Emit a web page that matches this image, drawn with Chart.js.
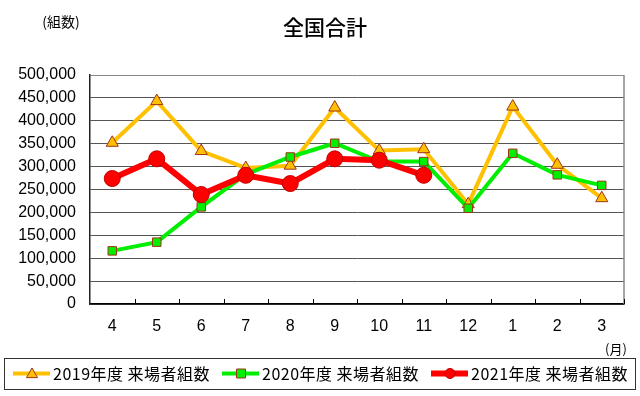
<!DOCTYPE html>
<html>
<head>
<meta charset="utf-8">
<script src="https://cdn.jsdelivr.net/npm/chart.js@4"></script>
<style>
html, body { margin: 0; padding: 0; background: #fff; }
</style>
</head>
<body>
<canvas id="myChart" width="640" height="396"></canvas>
<script>
var months = ["4", "5", "6", "7", "8", "9", "10", "11", "12", "1", "2", "3"];
var labels2019 = "2019年度 来場者組数";
var labels2020 = "2020年度 来場者組数";
var labels2021 = "2021年度 来場者組数";
var values2019 = [352000, 443000, 334000, 297000, 302000, 429000, 335000, 338000, 218000, 431000, 304000, 231000];
var values2020 = [116000, 135000, 212000, 283000, 321000, 351000, 311000, 311000, 209000, 329000, 282000, 259000];
var values2021 = [274000, 317000, 239000, 281000, 263000, 317000, 314000, 281000, null, null, null, null];
var yTicks = [0, 500000, 50000]; // min, max, step

var FONT = 'Liberation Sans, "Noto Sans CJK JP", sans-serif';
var JFONT = '"Noto Sans CJK JP", sans-serif';

// draw one legend marker by hand
function drawMarker(ctx, style, x, y, r, fill, stroke) {
  ctx.save();
  ctx.fillStyle = fill;
  ctx.strokeStyle = stroke;
  ctx.lineWidth = 1;
  ctx.beginPath();
  if (style == 'triangle') {
    ctx.moveTo(x, y - r);
    ctx.lineTo(x + r, y + r * 0.75);
    ctx.lineTo(x - r, y + r * 0.75);
    ctx.closePath();
  } else if (style == 'rect') {
    ctx.rect(x - r, y - r, r * 2, r * 2);
  } else {
    ctx.arc(x, y, r, 0, Math.PI * 2);
  }
  ctx.fill();
  ctx.stroke();
  ctx.restore();
}

var decor = {
  id: 'decor',
  beforeDraw: function(chart) {
    var ctx = chart.ctx;
    ctx.save();
    ctx.fillStyle = '#fff';
    ctx.fillRect(0, 0, chart.width, chart.height);
    ctx.restore();
  },
  beforeDatasetsDraw: function(chart) {
    var ctx = chart.ctx, a = chart.chartArea;
    var xs = chart.scales.x;
    ctx.save();
    // right border of plot
    ctx.strokeStyle = '#888';
    ctx.lineWidth = 1.5;
    ctx.beginPath();
    ctx.moveTo(a.right, a.top);
    ctx.lineTo(a.right, a.bottom);
    ctx.stroke();
    // small inside ticks between categories
    ctx.strokeStyle = '#000';
    ctx.lineWidth = 1;
    ctx.beginPath();
    for (var i = 1; i <= months.length; i++) {
      var x = i < months.length ? (xs.getPixelForValue(i - 1) + xs.getPixelForValue(i)) / 2 : a.right;
      x = Math.round(x) + 0.5;
      ctx.moveTo(x, a.bottom);
      ctx.lineTo(x, a.bottom - 5);
    }
    ctx.stroke();
    ctx.restore();
  },
  afterDraw: function(chart) {
    var ctx = chart.ctx;
    ctx.save();
    ctx.fillStyle = '#000';
    ctx.textBaseline = 'middle';
    ctx.textAlign = 'center';
    ctx.font = '500 21px ' + JFONT;
    ctx.fillText('全国合計', 325, 27);
    ctx.font = '14px ' + JFONT;
    ctx.fillText('(組数)', 61, 22);
    ctx.font = '13px ' + JFONT;
    ctx.fillText('(月)', 616, 349);

    // legend box
    ctx.strokeStyle = '#333';
    ctx.lineWidth = 1;
    ctx.strokeRect(4.5, 358.5, 631, 31);
    var xs = [13, 222, 431];
    var ly = 373.5;
    chart.data.datasets.forEach(function(ds, i) {
      var x0 = xs[i];
      ctx.strokeStyle = ds.borderColor;
      ctx.lineWidth = ds.borderWidth;
      ctx.beginPath();
      ctx.moveTo(x0, ly);
      ctx.lineTo(x0 + 37, ly);
      ctx.stroke();
      drawMarker(ctx, ds.pointStyle, x0 + 19, ly, ds.pointStyle == 'circle' ? 5 : (ds.pointStyle == 'rect' ? 4.5 : 5.5),
        ds.pointBackgroundColor, ds.pointBorderColor);
      ctx.fillStyle = '#000';
      ctx.textAlign = 'left';
      ctx.font = '16px ' + JFONT;
      ctx.letterSpacing = '0.5px';
      ctx.fillText(ds.label, x0 + 40, ly);
      ctx.letterSpacing = '0px';
    });
    ctx.restore();
  }
};

var canvas = document.getElementById("myChart");
var ctx = canvas.getContext("2d");
var myChart = new Chart(ctx, {
  type: 'line',
  data: {
    labels: months,
    datasets: [{
      label: labels2019,
      data: values2019,
      borderColor: '#FFC000',
      borderWidth: 4,
      pointStyle: 'triangle',
      pointRadius: 7,
      pointBackgroundColor: '#FFC000',
      pointBorderColor: '#A0341A',
      pointBorderWidth: 1,
      order: 3
    }, {
      label: labels2020,
      data: values2020,
      borderColor: '#00EE00',
      borderWidth: 4,
      pointStyle: 'rect',
      pointRadius: 6,
      pointBackgroundColor: '#00EE00',
      pointBorderColor: '#A0341A',
      pointBorderWidth: 1,
      order: 2
    }, {
      label: labels2021,
      data: values2021,
      borderColor: '#FF0000',
      borderWidth: 6,
      pointStyle: 'circle',
      pointRadius: 8,
      pointBackgroundColor: '#FF0000',
      pointBorderColor: '#C00000',
      pointBorderWidth: 1,
      order: 1
    }]
  },
  options: {
    responsive: false,
    animation: false,
    devicePixelRatio: 1,
    layout: { padding: { top: 75, right: 16, left: 0, bottom: 0 } },
    plugins: {
      legend: { display: false },
      title: { display: false },
      tooltip: { enabled: false }
    },
    scales: {
      x: {
        offset: true,
        grid: { display: false, drawTicks: false },
        border: { display: true, color: '#000', width: 1.5 },
        ticks: { color: '#000', font: { family: FONT, size: 16 }, padding: 13, maxRotation: 0 },
        afterFit: function(scale) { scale.height = 92; }
      },
      y: {
        min: yTicks[0],
        max: yTicks[1],
        grid: {
          drawTicks: false,
          color: function(c) { return c.tick && c.tick.value == yTicks[1] ? '#888' : '#555'; },
          lineWidth: 1
        },
        border: { display: true, color: '#222', width: 1.5 },
        ticks: {
          stepSize: yTicks[2],
          color: '#000',
          padding: 14,
          font: { family: FONT, size: 16 },
          callback: function(v) { return v.toLocaleString('en-US'); }
        },
        afterFit: function(scale) { scale.width = 90; }
      }
    }
  },
  plugins: [decor]
});
</script>
</body>
</html>
